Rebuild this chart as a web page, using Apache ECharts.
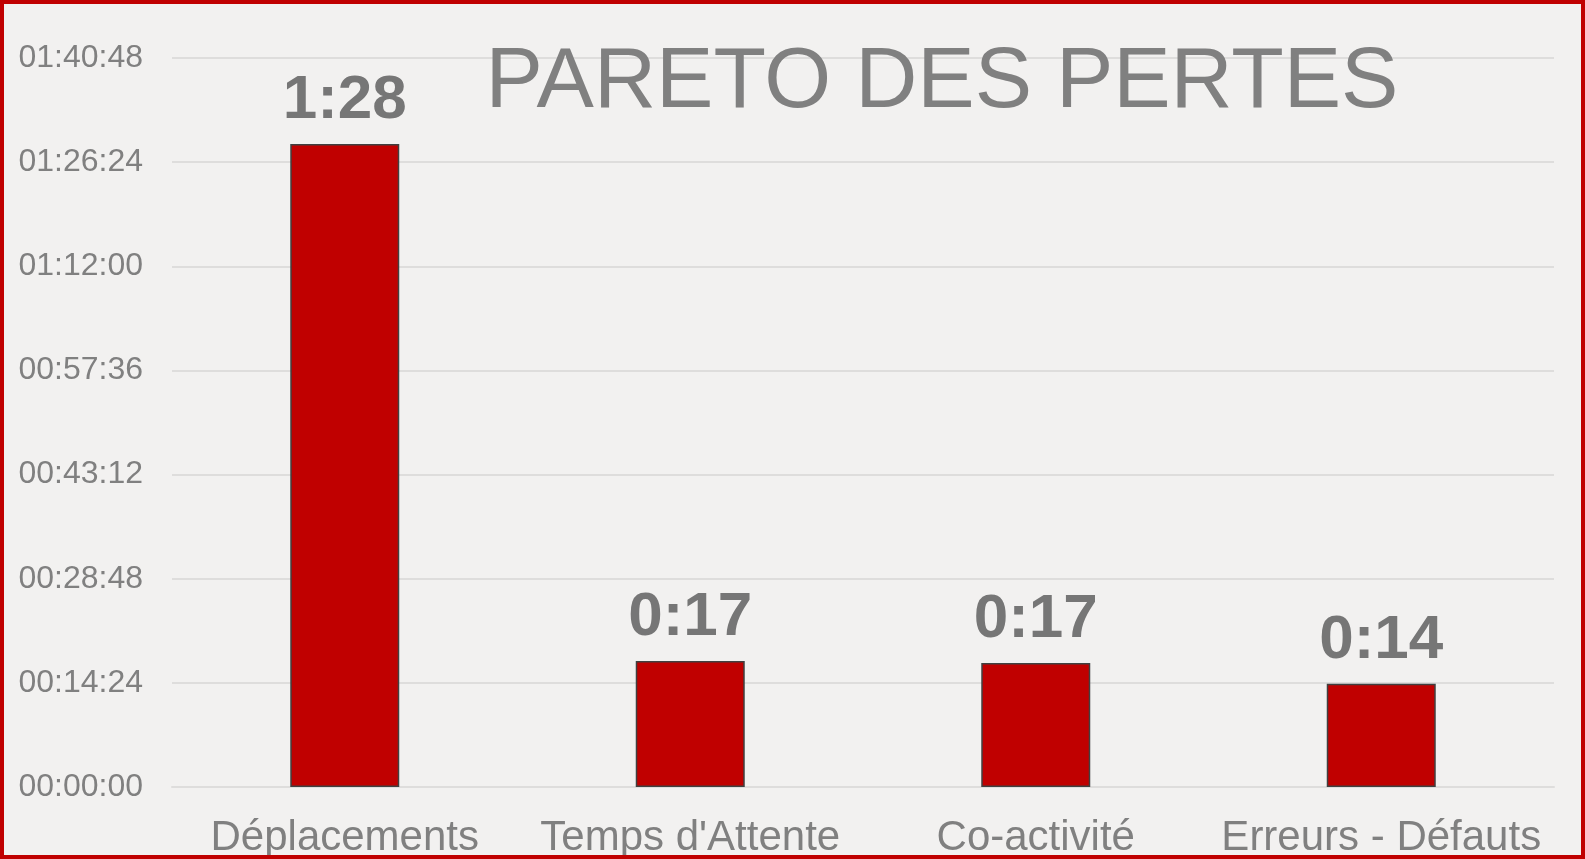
<!DOCTYPE html>
<html lang="fr">
<head>
  <meta charset="UTF-8">
  <title>Pareto des pertes</title>
  <style>
    html, body { margin: 0; padding: 0; background: #f2f1f0; }
  </style>
</head>
<body>
  <div id="main" style="width: 1585px;height:859px;"></div>

  <script src="https://cdn.jsdelivr.net/npm/echarts@6/dist/echarts.min.js"></script>

  <script type="text/javascript">
    // durées en secondes
    var categories = ['Déplacements', "Temps d'Attente", 'Co-activité', 'Erreurs - Défauts'];
    var lossSeconds = [5334, 1045, 1029, 857];
    var axisMax = 6048;      // 01:40:48
    var axisStep = 864;      // 00:14:24

    function pad(n) { return (n < 10 ? '0' : '') + n; }
    function hms(s) {
      var h = Math.floor(s / 3600), m = Math.floor((s % 3600) / 60), sec = Math.round(s % 60);
      return pad(h) + ':' + pad(m) + ':' + pad(sec);
    }
    function hm(s) {
      var h = Math.floor(s / 3600), m = Math.floor((s % 3600) / 60);
      return h + ':' + pad(m);
    }

    var myChart = echarts.init(document.getElementById('main'));
    var font = 'Liberation Sans, Arial, sans-serif';

    var option = {
      backgroundColor: '#f2f1f0',
      animation: false,
      title: {
        text: 'PARETO DES PERTES',
        left: 937,
        top: 35,
        textAlign: 'center',
        textStyle: { color: '#808080', fontSize: 86, fontWeight: 'normal', fontFamily: font }
      },
      grid: { left: 172, right: 31, top: 58, bottom: 70, containLabel: false },
      xAxis: {
        type: 'category',
        data: categories,
        axisLine: { show: true, lineStyle: { color: '#dedddc', width: 2 } },
        axisTick: { show: false },
        axisLabel: { color: '#808080', fontSize: 42, fontFamily: font, margin: 30, interval: 0 }
      },
      yAxis: {
        type: 'value',
        min: 0,
        max: axisMax,
        interval: axisStep,
        axisLine: { show: false },
        axisTick: { show: false },
        splitLine: { lineStyle: { color: '#dedddc', width: 2 } },
        axisLabel: {
          color: '#808080', fontSize: 32, fontFamily: font, margin: 29,
          formatter: function (v) { return hms(v); }
        }
      },
      series: [{
        type: 'bar',
        data: lossSeconds,
        barWidth: 109,
        itemStyle: { color: '#c00000', borderColor: '#404040', borderWidth: 1.5 },
        label: {
          show: true,
          position: 'top',
          distance: 12,
          color: '#767676',
          fontSize: 62,
          fontWeight: 'bold',
          fontFamily: font,
          formatter: function (p) { return hm(p.value); }
        }
      }],
      graphic: [{
        type: 'rect',
        shape: { x: 2, y: 2, width: 1581, height: 855 },
        style: { fill: 'none', stroke: '#c00000', lineWidth: 4 },
        z: 100
      }]
    };

    myChart.setOption(option);
  </script>
</body>
</html>
